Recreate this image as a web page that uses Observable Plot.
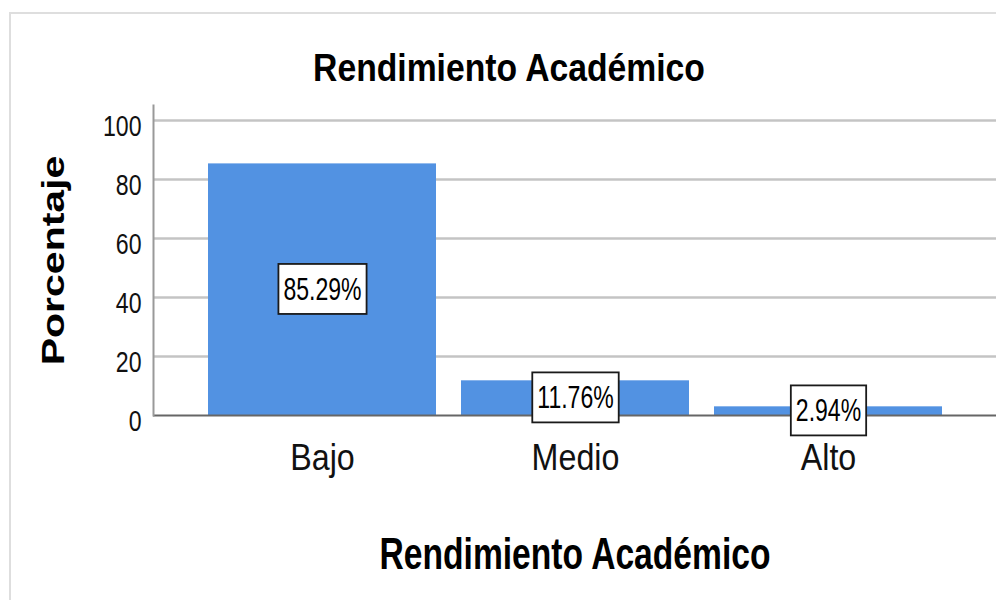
<!DOCTYPE html>
<html><head><meta charset="utf-8">
<script src="https://cdn.jsdelivr.net/npm/d3@7"></script>
<script src="https://cdn.jsdelivr.net/npm/@observablehq/plot@0.6"></script>
<style>
html,body{margin:0;padding:0;background:#fff;}
#wrap{position:relative;width:996px;height:600px;overflow:hidden;background:#fff;}
#border{position:absolute;left:9px;top:12px;width:1200px;height:800px;border:2px solid #dedede;box-sizing:border-box;pointer-events:none;}
#chart{position:absolute;left:0;top:0;}
svg text{font-family:"Liberation Sans", Arial, sans-serif;}
</style></head><body>
<div id="wrap"><div id="border"></div><div id="chart"></div></div>
<script>
const title = "Rendimiento Académico";
const xTitle = "Rendimiento Académico";
const yTitle = "Porcentaje";
const categories = ["Bajo", "Medio", "Alto"];
const percentages = [85.29, 11.76, 2.94];
const valueLabels = ["85.29%", "11.76%", "2.94%"];
const yTicks = [0, 20, 40, 60, 80, 100];

const data = categories.map((c, i) => ({category: c, value: percentages[i], label: valueLabels[i]}));
const font = '"Liberation Sans", Arial, sans-serif';

const chart = Plot.plot({
  width: 996, height: 600,
  marginLeft: 153, marginRight: 0, marginTop: 105, marginBottom: 185,
  style: {fontFamily: font, background: "transparent", overflow: "visible"},
  x: {domain: categories, paddingInner: 0.1, paddingOuter: 0.215, axis: null},
  y: {domain: [0, 100], range: [415, 120], axis: null},
  marks: [
    Plot.ruleY(yTicks.filter(t => t > 0), {stroke: "#c4c4c4", strokeWidth: 2.5}),
    Plot.barY(data, {x: "category", y: "value", fill: "#5292e2"}),
    Plot.ruleY([0], {stroke: "#666", strokeWidth: 2}),
    Plot.frame({anchor: "left", stroke: "#999", strokeWidth: 2}),
    Plot.text(yTicks, {y: d => d, text: d => String(d), frameAnchor: "left", textAnchor: "end", dx: -12, dy: 6, fontSize: 30, fill: "#111"}),
    Plot.text(categories, {x: d => d, text: d => d, frameAnchor: "bottom", textAnchor: "middle", lineAnchor: "top", dy: 28, fontSize: 37.5, fill: "#111"}),
    Plot.text(data, {x: "category", y: d => d.value / 2, text: "label", textAnchor: "middle", fontSize: 32, fill: "#000"}),
    Plot.text([title], {text: d => d, frameAnchor: "top", textAnchor: "middle", lineAnchor: "bottom", dx: -66, dy: -25, fontSize: 39, fontWeight: "bold", fill: "#000"}),
    Plot.text([xTitle], {text: d => d, frameAnchor: "bottom", textAnchor: "middle", lineAnchor: "bottom", dy: 153, fontSize: 44, fontWeight: "bold", fill: "#000"}),
    Plot.text([yTitle], {text: d => d, frameAnchor: "left", textAnchor: "middle", lineAnchor: "middle", rotate: -90, dx: -99, fontSize: 41, fontWeight: "bold", fill: "#000"})
  ]
});

document.getElementById("chart").append(chart);
const svg = chart.tagName.toLowerCase() === "svg" ? chart : chart.querySelector("svg");
const NS = "http://www.w3.org/2000/svg";
const allTexts = Array.from(svg.querySelectorAll("text"));

function condenseEl(t, kx, ky, origin, box) {
  const b = t.getBBox();
  const ox = origin === "end" ? b.x + b.width : origin === "start" ? b.x : b.x + b.width / 2;
  const oy = b.y + b.height / 2;
  const base = t.getAttribute("transform") || "";
  t.setAttribute("transform", `${base} translate(${ox},${oy}) scale(${kx},${ky}) translate(${-ox},${-oy})`);
  if (box) {
    const w = b.width * kx + 2 * box.padX;
    const r = document.createElementNS(NS, "rect");
    r.setAttribute("x", ox - w / 2);
    r.setAttribute("y", oy - box.h / 2);
    r.setAttribute("width", w);
    r.setAttribute("height", box.h);
    if (base) r.setAttribute("transform", base);
    r.setAttribute("fill", "#fff");
    r.setAttribute("stroke", "#1a1a1a");
    r.setAttribute("stroke-width", 1.8);
    t.parentNode.insertBefore(r, t);
  }
}
function byContent(list) {
  const set = new Set(list.map(String));
  return allTexts.filter(t => set.has(t.textContent.trim()));
}
byContent(yTicks).forEach(t => condenseEl(t, 0.77, 1, "end"));
byContent(categories).forEach(t => condenseEl(t, 0.86, 1, "middle"));
byContent(valueLabels).forEach(t => condenseEl(t, 0.72, 1, "middle", {padX: 5, h: 50}));
const titles = byContent([title]).sort((a, b) => a.getBoundingClientRect().top - b.getBoundingClientRect().top);
if (titles[0]) condenseEl(titles[0], 0.864, 1, "middle");
if (titles[1]) condenseEl(titles[1], 0.764, 1, "middle");
byContent([yTitle]).forEach(t => condenseEl(t, 1, 0.75, "middle"));
</script>
</body></html>
